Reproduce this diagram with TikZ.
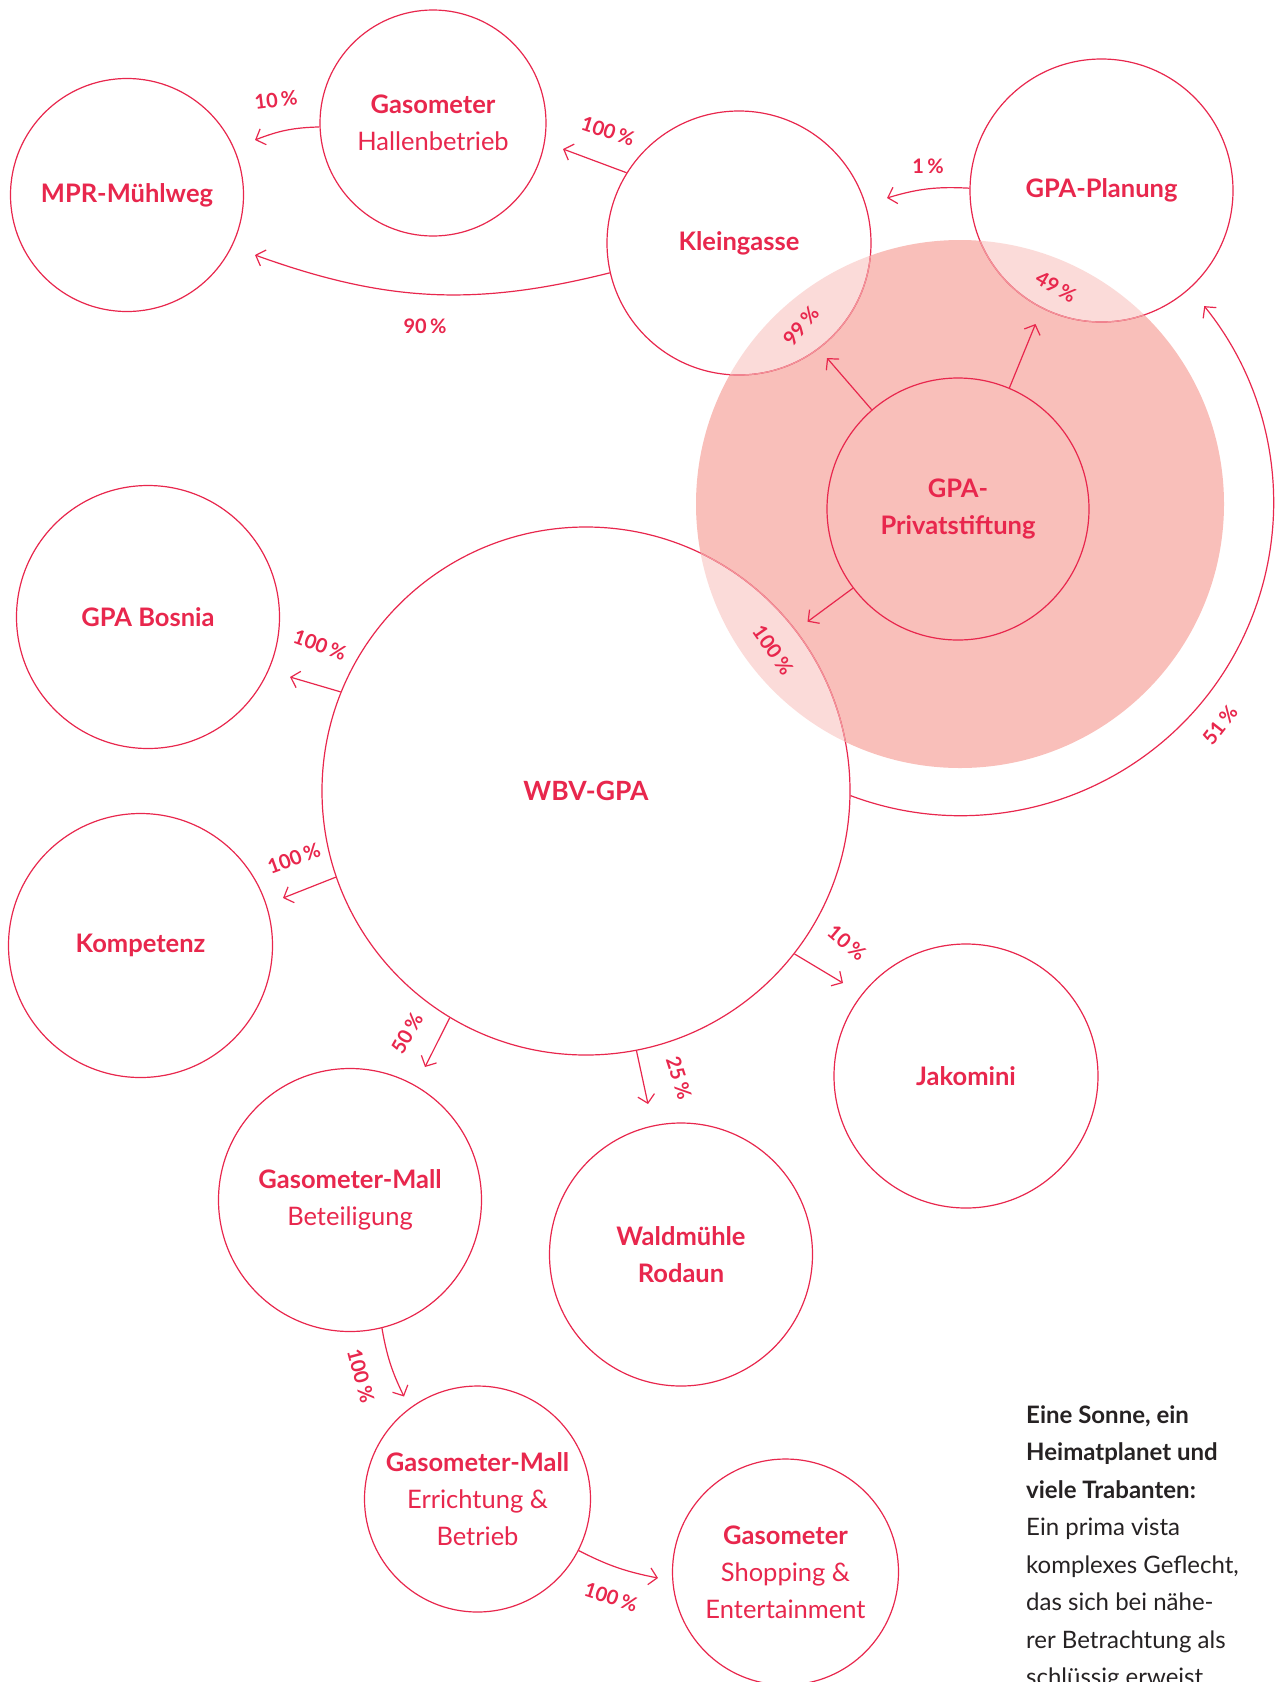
\documentclass[tikz,border=0pt]{standalone}
\usepackage{fontspec}
\setmainfont{Lato}
\usetikzlibrary{arrows.meta}
\definecolor{gpared}{HTML}{E8274D}
\definecolor{sunfill}{HTML}{F9BFBA}
\definecolor{sunline}{HTML}{F2959B}
\definecolor{txtdark}{HTML}{262223}
\tikzset{
  ent/.style={circle, draw=gpared, line width=1.2pt, inner sep=0pt, minimum size=#1,
    align=center, text=gpared, fill=white, fill opacity=0.45, text opacity=1,
    font=\fontsize{25.5}{37}\selectfont},
  arr/.style={draw=gpared, line width=1.2pt, -{Straight Barb[length=8pt,width=17pt,line width=1.2pt]}},
  pct/.style={text=gpared, inner sep=0pt, font=\fontsize{20}{22}\selectfont\bfseries},
  blk/.style={text=txtdark, inner sep=0pt, anchor=base west, font=\fontsize{24}{37.5}\selectfont},
  lite/.style={draw=sunline, line width=1.2pt}
}
\begin{document}
\begin{tikzpicture}[x=1pt,y=1pt]
\useasboundingbox (0,0) rectangle (1283,-1682);
% sun
\node[circle, fill=sunfill, inner sep=0pt, minimum size=528pt] (sun) at (960,-504) {};
% entities
\node[ent=233pt] (mpr) at (127,-195) {\textbf{MPR-Mühlweg}};
\node[ent=226pt] (gh) at (433,-123) {\textbf{Gasometer}\\Hallenbetrieb};
\node[ent=264pt] (kg) at (739,-243) {\textbf{Kleingasse}};
\node[ent=263pt] (gp) at (1101.5,-190.5) {\textbf{GPA-Planung}};
\node[ent=262pt, fill=none] (ps) at (958,-509) {\textbf{GPA-}\\\textbf{Privatstiftung}};
\node[ent=263pt] (bos) at (148,-617) {\textbf{GPA Bosnia}};
\node[ent=528pt, font=\fontsize{26.5}{30}\selectfont] (wbv) at (586,-791) {\textbf{WBV-GPA}};
\node[ent=264pt] (komp) at (140.5,-945.5) {\textbf{Kompetenz}};
\node[ent=264pt] (jak) at (966,-1076) {\textbf{Jakomini}};
\node[ent=263pt] (wald) at (681,-1254.5) {\textbf{Waldmühle}\\\textbf{Rodaun}};
\node[ent=263pt] (gmb) at (350,-1200) {\textbf{Gasometer-Mall}\\Beteiligung};
\node[ent=226pt] (gme) at (477.5,-1499) {\textbf{Gasometer-Mall}\\Errichtung \&\\Betrieb};
\node[ent=226pt] (gse) at (785.5,-1572) {\textbf{Gasometer}\\Shopping \&\\Entertainment};
% lighter outlines inside the sun
\begin{scope}
  \clip (sun.center) circle[radius=264pt];
  \draw[lite] (kg.center) circle[radius=132pt];
  \draw[lite] (gp.center) circle[radius=131.5pt];
  \draw[lite] (wbv.center) circle[radius=264pt];
\end{scope}
% arrow tips
\coordinate (t1) at (255,-140);
\coordinate (t2) at (563,-149);
\coordinate (t3) at (255,-255);
\coordinate (t4) at (887,-198);
\coordinate (t5) at (827,-358);
\coordinate (t6) at (1035.5,-324);
\coordinate (t7) at (807.5,-621.7);
\coordinate (t9) at (290,-677);
\coordinate (t10) at (283,-898);
\coordinate (t11) at (425,-1067);
\coordinate (t12) at (648,-1104);
\coordinate (t13) at (843,-983);
\coordinate (t14) at (404,-1396.5);
\coordinate (t15) at (658,-1578);
% connectors
\draw[arr] (gh.182) to[bend right=10] (t1);
\draw[arr] (kg.148) -- (t2);
\draw[arr] (kg.193) to[bend left=17] (t3);
\draw[arr] (gp.179) to[bend right=10] (t4);
\draw[arr] (ps.131) -- (t5);
\draw[arr] (ps.67) -- (t6);
\draw[arr] (ps.217) -- (t7);
\draw[arr] (wbv.-1.3) arc[start angle=-110.6, end angle=38.9, radius=313pt];
\draw[arr] (wbv.158.9) -- (t9);
\draw[arr] (wbv.199.6) -- (t10);
\draw[arr] (wbv.239.7) -- (t11);
\draw[arr] (wbv.281.2) -- (t12);
\draw[arr] (wbv.322.9) -- (t13);
\draw[arr] (gmb.284) to[bend right=8] (t14);
\draw[arr] (gme.333.7) to[bend right=8] (t15);
% percentages
\node[pct, rotate=7] (l1) at (276,-100) {10\,\%};
\node[pct, rotate=-18] (l2) at (608,-131) {100\,\%};
\node[pct] (l3) at (425,-326) {90\,\%};
\node[pct] (l4) at (928,-166) {1\,\%};
\node[pct, rotate=50] (l5) at (801,-326) {99\,\%};
\node[pct, rotate=-30] (l6) at (1056,-287) {49\,\%};
\node[pct, rotate=-55] (l7) at (773,-650) {100\,\%};
\node[pct, rotate=52] (l8) at (1220,-725) {51\,\%};
\node[pct, rotate=-20] (l9) at (320,-645) {100\,\%};
\node[pct, rotate=20] (l10) at (294,-858) {100\,\%};
\node[pct, rotate=60] (l11) at (407,-1033) {50\,\%};
\node[pct, rotate=-72] (l12) at (679,-1078) {25\,\%};
\node[pct, rotate=-40] (l13) at (847,-943) {10\,\%};
\node[pct, rotate=-75] (l14) at (361,-1376) {100\,\%};
\node[pct, rotate=-18] (l15) at (611,-1597) {100\,\%};
% text block
\node[blk] (b1) at (1026,-1423) {\textbf{Eine Sonne, ein}};
\node[blk] (b2) at (1026,-1460.5) {\textbf{Heimatplanet und}};
\node[blk] (b3) at (1026,-1498) {\textbf{viele Trabanten:}};
\node[blk] (b4) at (1026,-1535.5) {Ein prima vista};
\node[blk] (b5) at (1026,-1573) {komplexes Geflecht,};
\node[blk] (b6) at (1026,-1610.5) {das sich bei nähe-};
\node[blk] (b7) at (1026,-1648) {rer Betrachtung als};
\node[blk] (b8) at (1026,-1685.5) {schlüssig erweist.};
\end{tikzpicture}
\end{document}
